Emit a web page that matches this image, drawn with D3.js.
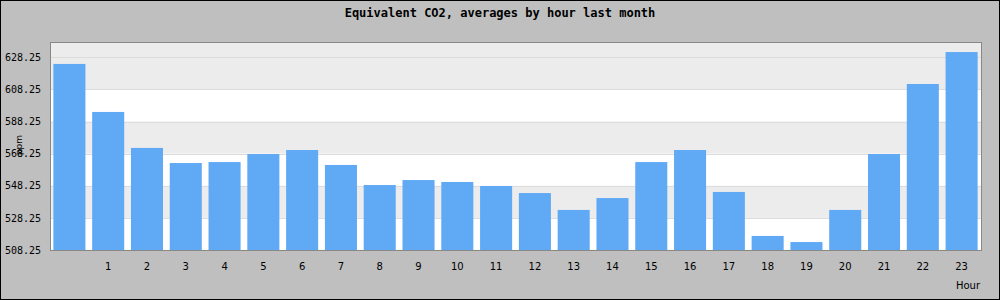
<!DOCTYPE html>
<html>
<head>
<meta charset="utf-8">
<script src="https://cdn.jsdelivr.net/npm/d3@7"></script>
<style>
  body { margin: 0; background: #bfbfbf; }
  svg { display: block; }
</style>
</head>
<body>
<script>
// hourly averages
const hours = d3.range(24);
const hourLabels = ["", "1", "2", "3", "4", "5", "6", "7", "8", "9", "10", "11",
  "12", "13", "14", "15", "16", "17", "18", "19", "20", "21", "22", "23"];
const ppm = [624.1, 594.2, 571.8, 562.4, 563.0, 568.0, 570.5, 561.2, 548.7, 551.8,
  550.6, 548.1, 543.7, 533.2, 540.6, 563.0, 570.5, 544.4, 517.0, 513.2,
  533.2, 568.0, 611.6, 631.5];
const yTicks = [508.25, 528.25, 548.25, 568.25, 588.25, 608.25, 628.25];
const yMin = 508.25, yMax = 637.75;

const width = 1000, height = 300;
const margin = { top: 42, right: 19, bottom: 50, left: 50 };

const svg = d3.select("body").append("svg")
  .attr("width", width)
  .attr("height", height);

svg.append("rect")
  .attr("x", 0.5).attr("y", 0.5)
  .attr("width", width - 1).attr("height", height - 1)
  .attr("fill", "#bfbfbf")
  .attr("stroke", "#000");

const x = d3.scaleBand()
  .domain(hours)
  .range([margin.left, width - margin.right])
  .paddingInner(0.174)
  .paddingOuter(0.087);

const y = d3.scaleLinear()
  .domain([yMin, yMax])
  .range([height - margin.bottom, margin.top]);

// plot background, white bands between alternate ticks
svg.append("rect")
  .attr("x", margin.left).attr("y", margin.top)
  .attr("width", width - margin.left - margin.right)
  .attr("height", height - margin.top - margin.bottom)
  .attr("fill", "#ececec");

const bands = yTicks.slice(0, -1).filter((d, i) => i % 2 === 0);
svg.append("g").selectAll("rect")
  .data(bands)
  .join("rect")
  .attr("x", margin.left)
  .attr("width", width - margin.left - margin.right)
  .attr("y", d => y(d + 20))
  .attr("height", d => y(d) - y(d + 20))
  .attr("fill", "#fff");

svg.append("g").selectAll("line")
  .data(yTicks.slice(1))
  .join("line")
  .attr("x1", margin.left).attr("x2", width - margin.right)
  .attr("y1", d => Math.round(y(d)) + 0.5)
  .attr("y2", d => Math.round(y(d)) + 0.5)
  .attr("stroke", "#dcdcdc");

svg.append("g").selectAll("rect")
  .data(hours)
  .join("rect")
  .attr("x", d => x(d))
  .attr("width", x.bandwidth())
  .attr("y", d => y(ppm[d]))
  .attr("height", d => y(yMin) - y(ppm[d]))
  .attr("fill", "#60a9f5");

// frame
svg.append("rect")
  .attr("x", margin.left + 0.5).attr("y", margin.top + 0.5)
  .attr("width", width - margin.left - margin.right)
  .attr("height", height - margin.top - margin.bottom)
  .attr("fill", "none")
  .attr("stroke", "#888");

const yAxis = svg.append("g")
  .attr("transform", `translate(${margin.left},0)`)
  .call(d3.axisLeft(y).tickValues(yTicks).tickSize(0).tickPadding(9)
    .tickFormat(d3.format(".2f")));
yAxis.select(".domain").remove();
yAxis.selectAll("text")
  .attr("font-family", "DejaVu Sans Mono")
  .attr("font-size", 10)
  .attr("fill", "#000");

const xAxis = svg.append("g")
  .attr("transform", `translate(0,${height - margin.bottom})`)
  .call(d3.axisBottom(x).tickSize(0).tickPadding(13).tickFormat(d => hourLabels[d]));
xAxis.select(".domain").remove();
xAxis.selectAll("text")
  .attr("font-family", "DejaVu Sans")
  .attr("font-size", 10)
  .attr("fill", "#000");

svg.append("text")
  .attr("x", width / 2).attr("y", 17)
  .attr("text-anchor", "middle")
  .attr("font-family", "DejaVu Sans Mono")
  .attr("font-weight", "bold")
  .attr("font-size", 12)
  .text("Equivalent CO2, averages by hour last month");

svg.append("text")
  .attr("x", width - margin.right - 1).attr("y", 289)
  .attr("text-anchor", "end")
  .attr("font-family", "DejaVu Sans")
  .attr("font-size", 10)
  .text("Hour");

svg.append("text")
  .attr("transform", "translate(22,145) rotate(-90)")
  .attr("text-anchor", "middle")
  .attr("font-family", "DejaVu Sans")
  .attr("font-size", 9)
  .text("ppm");
</script>
</body>
</html>
